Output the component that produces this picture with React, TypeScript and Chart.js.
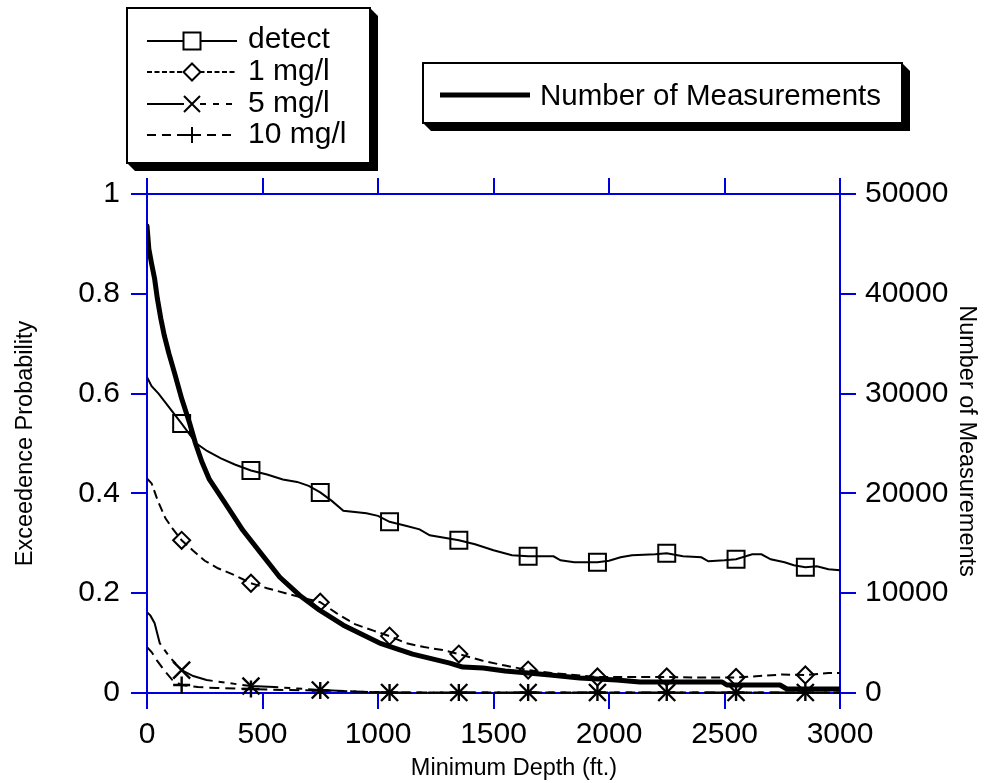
import React, { useEffect, useRef } from "react";
import { Chart, registerables } from "chart.js";

Chart.register(...registerables);

const BLUE = "#0000dd";
const FONT = "'Liberation Sans', Arial, Helvetica, sans-serif";

// ---- data ----
const markerDepths = [150, 450, 750, 1050, 1350, 1650, 1950, 2250, 2550, 2850];

const detectDepth = [0, 20, 50, 100, 150, 214, 260, 320, 380, 450, 520, 588, 650, 700, 750, 800, 850, 950, 1000, 1050, 1120, 1180, 1224, 1300, 1350, 1420, 1500, 1580, 1650, 1760, 1790, 1850, 1950, 2000, 2050, 2100, 2200, 2250, 2320, 2400, 2430, 2500, 2550, 2620, 2660, 2700, 2760, 2800, 2850, 2900, 2950, 3000];
const detectValue = [0.633, 0.615, 0.6, 0.57, 0.54, 0.5, 0.485, 0.47, 0.458, 0.446, 0.438, 0.428, 0.423, 0.415, 0.402, 0.385, 0.365, 0.36, 0.355, 0.343, 0.335, 0.328, 0.316, 0.31, 0.306, 0.298, 0.286, 0.276, 0.274, 0.274, 0.266, 0.262, 0.262, 0.265, 0.272, 0.276, 0.278, 0.28, 0.274, 0.272, 0.264, 0.266, 0.268, 0.278, 0.278, 0.268, 0.262, 0.256, 0.252, 0.254, 0.248, 0.246];

const oneDepth = [0, 20, 46, 80, 110, 150, 200, 250, 307, 380, 450, 520, 600, 680, 750, 820, 900, 980, 1050, 1120, 1200, 1280, 1350, 1450, 1550, 1650, 1750, 1850, 1950, 2100, 2250, 2400, 2550, 2650, 2750, 2850, 2950, 3000];
const oneValue = [0.43, 0.42, 0.386, 0.35, 0.33, 0.306, 0.285, 0.265, 0.25, 0.236, 0.22, 0.21, 0.2, 0.19, 0.182, 0.16, 0.138, 0.125, 0.114, 0.1, 0.092, 0.086, 0.078, 0.065, 0.055, 0.046, 0.04, 0.036, 0.032, 0.032, 0.032, 0.031, 0.031, 0.034, 0.037, 0.036, 0.04, 0.04];

const fiveDepth = [0, 15, 33, 55, 98, 150, 200, 258, 350, 450, 550, 650, 750, 900, 1050, 1200, 1350, 1500, 1650, 1800, 1950, 2100, 2250, 2400, 2550, 2700, 2850, 3000];
const fiveValue = [0.162, 0.155, 0.14, 0.1, 0.072, 0.046, 0.034, 0.026, 0.02, 0.014, 0.012, 0.009, 0.006, 0.003, 0.001, 0.001, 0.001, 0.001, 0.001, 0.001, 0.001, 0.001, 0.001, 0.001, 0.001, 0.001, 0.001, 0.001];

const tenDepth = [0, 20, 42, 75, 110, 150, 220, 300, 450, 600, 750, 900, 1050, 1200, 1350, 1500, 1650, 1800, 1950, 2100, 2250, 2400, 2550, 2700, 2850, 3000];
const tenValue = [0.092, 0.082, 0.066, 0.045, 0.026, 0.016, 0.012, 0.01, 0.008, 0.006, 0.005, 0.003, 0.001, 0.001, 0.001, 0.001, 0.001, 0.001, 0.001, 0.001, 0.001, 0.001, 0.001, 0.001, 0.001, 0.001];

const countDepth = [0, 8, 20, 33, 45, 60, 75, 95, 120, 150, 185, 210, 237, 270, 336, 415, 500, 575, 660, 747, 850, 1007, 1150, 1311, 1367, 1455, 1550, 1650, 1745, 1873, 2033, 2133, 2300, 2490, 2510, 2740, 2770, 3000];
const countValue = [46800, 44500, 43000, 41500, 39500, 37500, 35800, 34000, 32000, 29500, 27000, 25000, 23200, 21400, 19100, 16300, 13800, 11600, 9800, 8300, 6800, 5000, 3900, 3000, 2600, 2500, 2200, 2000, 1800, 1500, 1300, 1100, 1100, 1100, 800, 800, 400, 400];

const seriesLabels = ["detect", "1 mg/l", "5 mg/l", "10 mg/l"];
const countLabel = "Number of Measurements";
const xTitle = "Minimum Depth (ft.)";
const yTitle = "Exceedence Probability";
const y2Title = "Number of Measurements";

// ---- helpers ----
const toPoints = (xs: number[], ys: number[]) => xs.map((x, i) => ({ x, y: ys[i] }));
const markerRadius = (r: number) => (ctx: any) =>
  ctx.raw && markerDepths.includes(ctx.raw.x) ? r : 0;

function drawMarker(ctx: CanvasRenderingContext2D, kind: string, x: number, y: number) {
  ctx.save();
  ctx.strokeStyle = "#000";
  ctx.lineWidth = 2;
  ctx.setLineDash([]);
  ctx.beginPath();
  if (kind === "square") {
    ctx.fillStyle = "#fff";
    ctx.rect(x - 8.5, y - 8.5, 17, 17);
    ctx.fill();
  } else if (kind === "diamond") {
    ctx.fillStyle = "#fff";
    ctx.moveTo(x - 8.5, y);
    ctx.lineTo(x, y - 8.5);
    ctx.lineTo(x + 8.5, y);
    ctx.lineTo(x, y + 8.5);
    ctx.closePath();
    ctx.fill();
  } else if (kind === "x") {
    ctx.moveTo(x - 8, y - 8);
    ctx.lineTo(x + 8, y + 8);
    ctx.moveTo(x + 8, y - 8);
    ctx.lineTo(x - 8, y + 8);
  } else {
    ctx.moveTo(x - 8, y);
    ctx.lineTo(x + 8, y);
    ctx.moveTo(x, y - 8);
    ctx.lineTo(x, y + 8);
  }
  ctx.stroke();
  ctx.restore();
}

function shadowBox(ctx: CanvasRenderingContext2D, x: number, y: number, w: number, h: number) {
  const s = 8;
  ctx.fillStyle = "#000";
  ctx.beginPath();
  ctx.moveTo(x + w, y);
  ctx.lineTo(x + w + s, y + s);
  ctx.lineTo(x + w + s, y + h + s);
  ctx.lineTo(x + s, y + h + s);
  ctx.lineTo(x, y + h);
  ctx.closePath();
  ctx.fill();
  ctx.fillStyle = "#fff";
  ctx.fillRect(x, y, w, h);
  ctx.strokeStyle = "#000";
  ctx.lineWidth = 2;
  ctx.setLineDash([]);
  ctx.strokeRect(x, y, w, h);
}

function seg(ctx: CanvasRenderingContext2D, x1: number, x2: number, y: number, dash: number[], width: number) {
  ctx.save();
  ctx.strokeStyle = "#000";
  ctx.lineWidth = width;
  ctx.setLineDash(dash);
  ctx.beginPath();
  ctx.moveTo(x1, y);
  ctx.lineTo(x2, y);
  ctx.stroke();
  ctx.restore();
}

const overlayPlugin = {
  id: "overlay",
  afterDraw(chart: any) {
    const ctx: CanvasRenderingContext2D = chart.ctx;
    ctx.save();
    // legend 1
    shadowBox(ctx, 127, 8, 243, 155);
    const rows = [41, 72, 104, 135];
    const bases = [48, 80, 112, 143];
    const kinds = ["square", "diamond", "x", "plus"];
    seg(ctx, 147, 237, rows[0], [], 2);
    seg(ctx, 147, 237, rows[1], [5, 2.5], 2);
    seg(ctx, 147, 184, rows[2], [], 2);
    seg(ctx, 200, 237, rows[2], [6, 7], 2);
    seg(ctx, 147, 237, rows[3], [9, 6], 2);
    for (let i = 0; i < 4; i++) drawMarker(ctx, kinds[i], 192, rows[i]);
    ctx.fillStyle = "#000";
    ctx.font = `30px ${FONT}`;
    ctx.textAlign = "left";
    ctx.textBaseline = "alphabetic";
    for (let i = 0; i < 4; i++) ctx.fillText(seriesLabels[i], 248, bases[i]);

    // legend 2
    shadowBox(ctx, 423, 63, 479, 60);
    seg(ctx, 440, 530, 95, [], 5);
    ctx.fillStyle = "#000";
    ctx.font = `29.5px ${FONT}`;
    ctx.fillText(countLabel, 540, 105);

    // axis titles
    ctx.font = `23.5px ${FONT}`;
    ctx.textAlign = "center";
    ctx.fillText(xTitle, 514, 775);
    ctx.save();
    ctx.translate(31.5, 443.5);
    ctx.rotate(-Math.PI / 2);
    ctx.fillText(yTitle, 0, 0);
    ctx.restore();
    ctx.save();
    ctx.translate(960, 441);
    ctx.rotate(Math.PI / 2);
    ctx.fillText(y2Title, 0, 0);
    ctx.restore();
    ctx.restore();
  },
};

const gridOpts = {
  drawOnChartArea: false,
  color: BLUE,
  lineWidth: 2,
  tickLength: 16,
  tickWidth: 2,
  tickColor: BLUE,
};
const borderOpts = { display: true, color: BLUE, width: 2 };
const tickFont = { family: FONT, size: 30 };

export default function App() {
  const ref = useRef<HTMLCanvasElement | null>(null);

  useEffect(() => {
    document.body.style.margin = "0";
    document.body.style.overflow = "hidden";
    const canvas = ref.current;
    if (!canvas) return;
    const chart = new Chart(canvas, {
      type: "line",
      data: {
        datasets: [
          {
            label: countLabel,
            data: toPoints(countDepth, countValue),
            xAxisID: "x",
            yAxisID: "y2",
            borderColor: "#000",
            borderWidth: 5,
            pointRadius: 0,
            borderJoinStyle: "round",
            borderCapStyle: "round",
            tension: 0,
          },
          {
            label: seriesLabels[0],
            data: toPoints(detectDepth, detectValue),
            xAxisID: "x",
            yAxisID: "y",
            borderColor: "#000",
            borderWidth: 2,
            pointStyle: "rect",
            pointRadius: markerRadius(12),
            pointBorderWidth: 2,
            pointBorderColor: "#000",
            pointBackgroundColor: "rgba(0,0,0,0)",
            tension: 0,
          },
          {
            label: seriesLabels[1],
            data: toPoints(oneDepth, oneValue),
            xAxisID: "x",
            yAxisID: "y",
            borderColor: "#000",
            borderWidth: 2,
            borderDash: [9, 5],
            pointStyle: "rectRot",
            pointRadius: markerRadius(8.5),
            pointBorderWidth: 2,
            pointBorderColor: "#000",
            pointBackgroundColor: "rgba(0,0,0,0)",
            tension: 0,
          },
          {
            label: seriesLabels[2],
            data: toPoints(fiveDepth, fiveValue),
            xAxisID: "x",
            yAxisID: "y",
            borderColor: "#000",
            borderWidth: 2,
            borderDash: [36, 6, 6, 6, 6, 6],
            pointStyle: "crossRot",
            pointRadius: markerRadius(12),
            pointBorderWidth: 2.4,
            pointBorderColor: "#000",
            tension: 0,
            clip: { left: 0, top: 0, right: 0, bottom: 12 },
          },
          {
            label: seriesLabels[3],
            data: toPoints(tenDepth, tenValue),
            xAxisID: "x",
            yAxisID: "y",
            borderColor: "#000",
            borderWidth: 2,
            borderDash: [10, 6],
            pointStyle: "cross",
            pointRadius: markerRadius(8.5),
            pointBorderWidth: 2.4,
            pointBorderColor: "#000",
            tension: 0,
            clip: { left: 0, top: 0, right: 0, bottom: 12 },
          },
        ],
      },
      options: {
        responsive: false,
        animation: false,
        devicePixelRatio: 1,
        layout: { padding: 0 },
        plugins: {
          legend: { display: false },
          tooltip: { enabled: false },
          title: { display: false },
        },
        events: [],
        scales: {
          x: {
            type: "linear",
            position: "bottom",
            min: 0,
            max: 3000,
            ticks: {
              stepSize: 500,
              font: tickFont,
              color: "#000",
              padding: 8,
              maxRotation: 0,
              autoSkip: false,
              callback: (v: any) => String(v),
            },
            grid: gridOpts,
            border: borderOpts,
            afterFit: (s: any) => {
              s.height = 90;
            },
          },
          x2: {
            type: "linear",
            axis: "x",
            position: "top",
            min: 0,
            max: 3000,
            ticks: { stepSize: 500, display: false },
            grid: gridOpts,
            border: borderOpts,
            afterFit: (s: any) => {
              s.height = 194;
            },
          },
          y: {
            type: "linear",
            position: "left",
            min: 0,
            max: 1,
            ticks: {
              stepSize: 0.2,
              font: tickFont,
              color: "#000",
              padding: 11,
              callback: (v: any) => String(Math.round(Number(v) * 10) / 10),
            },
            grid: gridOpts,
            border: borderOpts,
            afterFit: (s: any) => {
              s.width = 147;
            },
          },
          y2: {
            type: "linear",
            axis: "y",
            position: "right",
            min: 0,
            max: 50000,
            ticks: {
              stepSize: 10000,
              font: tickFont,
              color: "#000",
              padding: 9,
              callback: (v: any) => String(Math.round(Number(v))),
            },
            grid: gridOpts,
            border: borderOpts,
            afterFit: (s: any) => {
              s.width = 147;
            },
          },
        },
      } as any,
      plugins: [overlayPlugin],
    });
    return () => chart.destroy();
  }, []);

  return (
    <canvas
      ref={ref}
      width={987}
      height={783}
      style={{ display: "block", width: "987px", height: "783px" }}
    />
  );
}
